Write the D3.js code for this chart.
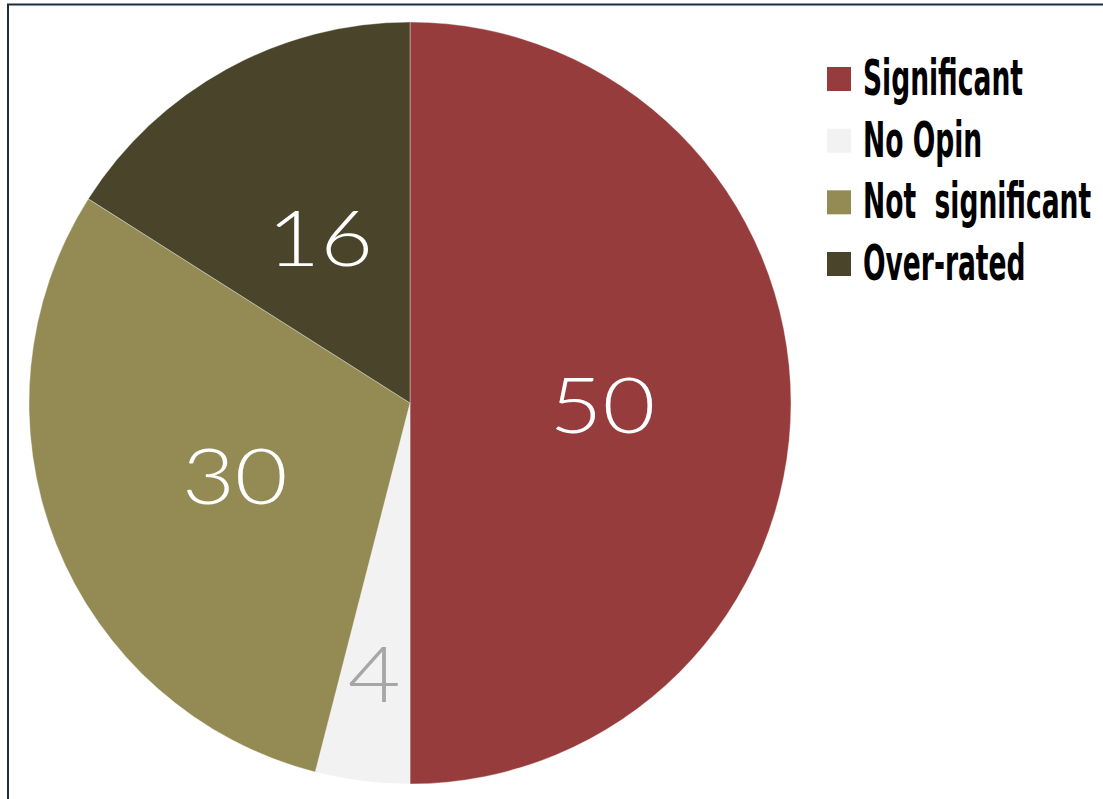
<!DOCTYPE html>
<html>
<head>
<meta charset="utf-8">
<script src="https://cdn.jsdelivr.net/npm/d3@7"></script>
<style>
  html, body { margin: 0; padding: 0; background: #fff; }
  svg { display: block; }
</style>
</head>
<body>
<svg id="chart" width="1103" height="799"></svg>
<script>
// Survey responses
const categories = ["Significant", "No Opin", "Not  significant", "Over-rated"];
const values = [50, 4, 30, 16];
const sliceColors = ["#963c3c", "#f2f2f2", "#948a54", "#4a452a"];
const labelColors = ["#ffffff", "#a6a6a6", "#ffffff", "#ffffff"];

const svg = d3.select("#chart");
const W = 1103, H = 799;

// Frame around the chart area (only top and left edges fall inside the view)
svg.append("rect")
  .attr("x", 8).attr("y", 4.5)
  .attr("width", W + 20).attr("height", H + 20)
  .attr("fill", "#fff")
  .attr("stroke", "#1e2c40")
  .attr("stroke-width", 2);

const cx = 410, cy = 403, R = 381;

const pie = d3.pie().sort(null).value(d => d.value);
const data = categories.map((c, i) => ({ name: c, value: values[i], color: sliceColors[i], labelColor: labelColors[i] }));
const arcs = pie(data);

const arc = d3.arc().innerRadius(0).outerRadius(R);

const g = svg.append("g").attr("transform", `translate(${cx},${cy})`);

g.selectAll("path.slice")
  .data(arcs)
  .enter().append("path")
  .attr("class", "slice")
  .attr("d", arc)
  .attr("fill", d => d.data.color)
  .attr("stroke", "rgba(255,255,255,0.45)")
  .attr("stroke-width", 0.8);

// Value labels: centred in each slice; the narrow slice gets its label pushed outward
const isNarrow = d => (d.endAngle - d.startAngle) < 0.5;
const labelRadius = d => isNarrow(d) ? R * 0.71 : R * 0.5;
g.selectAll("text.value")
  .data(arcs)
  .enter().append("text")
  .attr("class", "value")
  .attr("transform", d => {
    const a = (d.startAngle + d.endAngle) / 2;
    const r = labelRadius(d);
    const offX = isNarrow(d) ? -2 : 2;
    return `translate(${r * Math.sin(a) + offX},${-r * Math.cos(a) + 3}) scale(1.2,1)`;
  })
  .attr("text-anchor", "middle")
  .attr("dy", "0.36em")
  .attr("font-family", "Lato, 'Open Sans', sans-serif")
  .attr("font-weight", 300)
  .attr("font-size", 76)
  .attr("fill", d => d.data.labelColor)
  .text(d => d.data.value);

// Legend
const legend = svg.append("g").attr("transform", "translate(827,0)");
const rowY = d3.scalePoint().domain(categories).range([79, 264]);

const rows = legend.selectAll("g.row")
  .data(data)
  .enter().append("g")
  .attr("class", "row")
  .attr("transform", d => `translate(0,${rowY(d.name)})`);

rows.append("rect")
  .attr("x", 0).attr("y", -12)
  .attr("width", 24).attr("height", 24)
  .attr("fill", d => d.color);

const texts = rows.append("text")
  .attr("font-family", "'Liberation Sans Narrow', 'DejaVu Sans Condensed', sans-serif")
  .attr("font-weight", "bold")
  .attr("font-size", 50)
  .attr("fill", "#000")
  .attr("xml:space", "preserve")
  .style("white-space", "pre")
  .text(d => d.name);

// Compress the legend type horizontally to a tall, narrow look
const ref = texts.filter(d => d.name === "Significant").node().getComputedTextLength();
const sx = 160 / ref;
texts.attr("transform", `translate(36,16) scale(${sx},1)`);
</script>
</body>
</html>
